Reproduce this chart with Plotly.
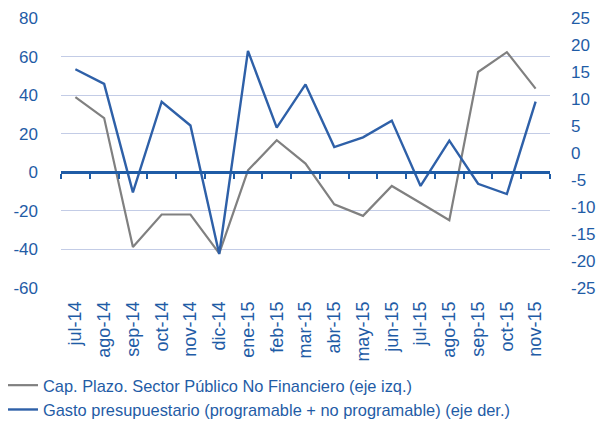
import plotly.graph_objects as go

months = ["jul-14", "ago-14", "sep-14", "oct-14", "nov-14", "dic-14", "ene-15", "feb-15",
          "mar-15", "abr-15", "may-15", "jun-15", "jul-15", "ago-15", "sep-15", "oct-15", "nov-15"]
cap_plazo = [39.0, 28.1, -38.7, -21.9, -21.9, -42.0, 1.0, 16.6,
             4.5, -16.6, -22.6, -7.1, -15.9, -24.9, 52.0, 62.3, 43.4]
gasto = [15.5, 12.8, -7.3, 9.5, 5.1, -18.7, 18.9, 4.7,
         12.7, 1.1, 2.9, 6.0, -6.1, 2.3, -5.7, -7.6, 9.5]

left_ticks = [-60, -40, -20, 0, 20, 40, 60, 80]
left_labels = ["-60", "-40", "-20", "0", "20", "40", "60", "80"]
right_ticks = [-25, -20, -15, -10, -5, 0, 5, 10, 15, 20, 25]
right_labels = ["-25", "-20", "-15", "-10", "-5", "0", "5", "10", "15", "20", "25"]

name_cap = "Cap. Plazo. Sector Público No Financiero (eje izq.)"
name_gasto = "Gasto presupuestario (programable + no programable) (eje der.)"

TXT = "#1F5CA6"
BLUE = "#2E60A8"
GRAY = "#808080"
GRID = "#C3CCE6"
FONT = "Liberation Sans, Arial, sans-serif"

fig = go.Figure()
fig.add_trace(go.Scatter(x=months, y=cap_plazo, name=name_cap, mode="lines",
                         line=dict(color=GRAY, width=2.2), xaxis="x", yaxis="y"))
fig.add_trace(go.Scatter(x=months, y=gasto, name=name_gasto, mode="lines",
                         line=dict(color=BLUE, width=2.4), xaxis="x", yaxis="y2"))
# invisible trace so the zero-line axis (x2) is drawn
fig.add_trace(go.Scatter(x=months, y=[0] * len(months), mode="lines", showlegend=False,
                         line=dict(width=0), hoverinfo="skip", xaxis="x2", yaxis="y"))

ymin, ymax = left_ticks[0], left_ticks[-1]
xrange = [-0.5, len(months) - 0.5]
fig.update_layout(
    width=597, height=423,
    margin=dict(l=61, r=47, t=18, b=135, autoexpand=False),
    paper_bgcolor="white", plot_bgcolor="white",
    font=dict(family=FONT, color=TXT, size=16),
    showlegend=True,
    legend=dict(x=-58 / 489, y=-(368 - 288) / 270,
                xanchor="left", yanchor="top", font=dict(size=16.4, color=TXT),
                bgcolor="rgba(0,0,0,0)", tracegroupgap=0, itemwidth=30),
    xaxis=dict(type="category", categoryorder="array", categoryarray=months,
               range=xrange,
               showgrid=False, showline=False, ticks="", tickangle=-90,
               tickfont=dict(size=18, color=TXT), ticklabelstandoff=9, zeroline=False),
    xaxis2=dict(type="category", categoryorder="array", categoryarray=months,
                range=xrange, overlaying="x", anchor="free",
                position=(0 - ymin) / (ymax - ymin),
                showline=True, linecolor="#1F5CA6", linewidth=2.5,
                ticks="outside", tickson="boundaries", ticklen=5, tickwidth=2,
                tickcolor="#1F5CA6", showticklabels=False, showgrid=False, zeroline=False),
    yaxis=dict(range=[ymin, ymax], tickmode="array", tickvals=left_ticks, ticktext=left_labels,
               showgrid=True, gridcolor=GRID,
               gridwidth=1.3, zeroline=False, showline=False, ticks="",
               tickfont=dict(size=17, color=TXT), ticklabelstandoff=22),
    yaxis2=dict(range=[right_ticks[0], right_ticks[-1]], tickmode="array",
                tickvals=right_ticks, ticktext=right_labels,
                overlaying="y", side="right",
                showgrid=False, zeroline=False, showline=False, ticks="",
                tickfont=dict(size=17, color=TXT), ticklabelstandoff=20),
)

fig.write_html("out.html", config={"displayModeBar": False},
               post_script="document.body.style.margin='0';")
